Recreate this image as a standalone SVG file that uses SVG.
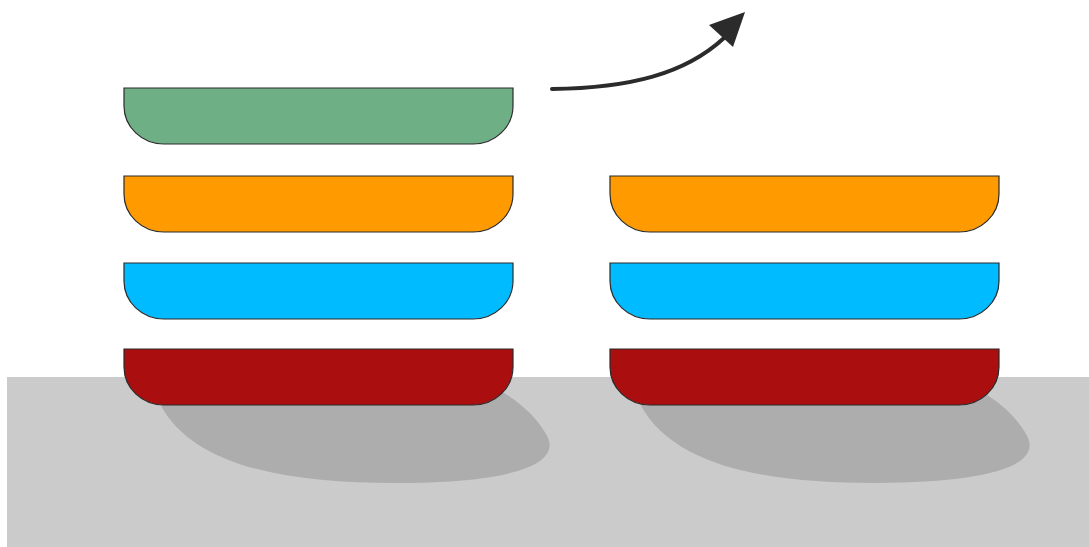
<svg xmlns="http://www.w3.org/2000/svg" width="1089" height="547" viewBox="0 0 1089 547">
  <style>
    .tray { stroke: #2a2a2a; stroke-width: 1.2; }
    .green { fill: #6faf86; }
    .orange { fill: #ff9b00; }
    .blue { fill: #00bbff; }
    .red { fill: #aa0e0e; }
    .shadow { fill: #adadad; }
    .link { fill: none; stroke: #2b2b2b; stroke-width: 4; stroke-linecap: round; }
    .head { fill: #2b2b2b; }
  </style>
  <defs>
    <path id="tray" d="M0,0 H389 V18 A40,38 0 0 1 349,56 H40 A40,38 0 0 1 0,18 Z"/>
    <path id="shade" d="M36,55 C70,120 170,134 270,134 C390,134 440,115 422,85 C405,55 370,35 330,20 L36,20 Z"/>
  </defs>

  <!-- ground -->
  <rect x="7" y="377" width="1082" height="170" fill="#cbcbcb"/>

  <!-- shadows under the base trays -->
  <use href="#shade" class="shadow" transform="translate(124,349)"/>
  <use href="#shade" class="shadow" transform="translate(604,349)"/>

  <!-- left stack -->
  <g id="left-green"><use href="#tray" class="tray green" transform="translate(124,88)"/></g>
  <g id="left-orange"><use href="#tray" class="tray orange" transform="translate(124,176)"/></g>
  <g id="left-blue"><use href="#tray" class="tray blue" transform="translate(124,263)"/></g>
  <g id="left-red"><use href="#tray" class="tray red" transform="translate(124,349)"/></g>

  <!-- right stack -->
  <g id="right-orange"><use href="#tray" class="tray orange" transform="translate(610,176)"/></g>
  <g id="right-blue"><use href="#tray" class="tray blue" transform="translate(610,263)"/></g>
  <g id="right-red"><use href="#tray" class="tray red" transform="translate(610,349)"/></g>

  <!-- connectors -->
  <g id="connectors">
    <path class="link" d="M552,89 C630,88 685,74 724,38"/>
    <polygon class="head" points="745,12 709,25 733,47"/>
  </g>
</svg>
